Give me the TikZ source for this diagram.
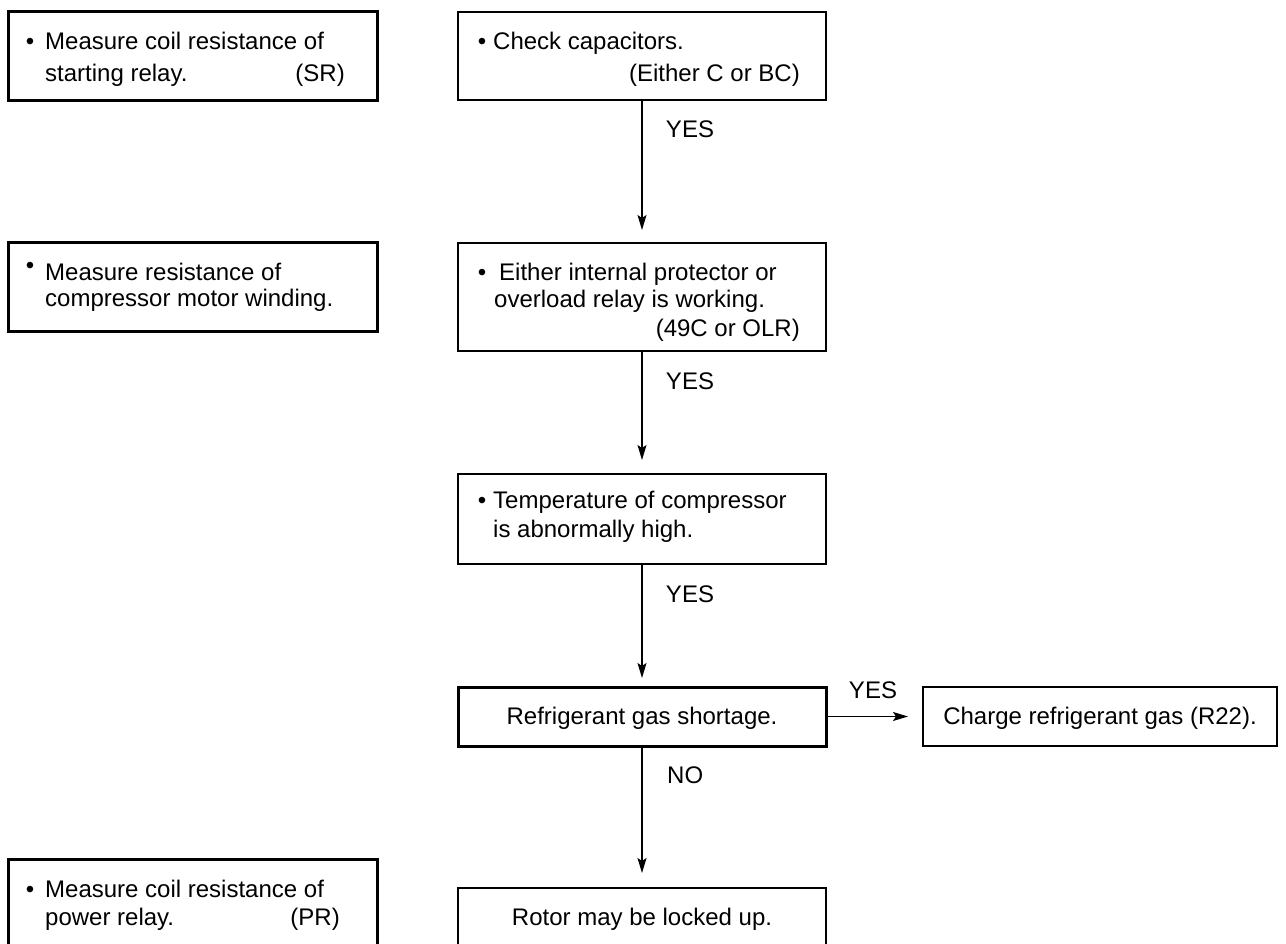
\documentclass[tikz,border=0pt]{standalone}
\usepackage{fontspec}
\setmainfont{Liberation Sans}
\usetikzlibrary{arrows.meta}
\tikzset{
  every picture/.style={x=1pt,y=-1pt},
  lbox/.style={draw, line width=3pt, inner sep=0, outer sep=0, anchor=north west},
  tbox/.style={draw, line width=1.2pt, inner sep=0, outer sep=0, anchor=north west},
  txt/.style={font=\fontsize{24}{28}\selectfont, inner sep=0},
  bul/.style={txt, anchor=base},
  conn/.style={line width=1.2pt, -{Stealth[length=15pt,width=9pt,inset=3pt]}},
  lbl/.style={txt, anchor=base}
}
\begin{document}
\begin{tikzpicture}
\clip (0,0) rectangle (1286,944);
\fill[white] (0,0) rectangle (1286,944);
% left column
\node[lbox, minimum width=369pt, minimum height=89pt] (sr) at (8,12) {};
\node[bul] (srb) at (30,50) {\textbullet};
\node[txt, anchor=base west] (sr1) at (45,50) {Measure coil resistance of};
\node[txt, anchor=base west] (sr2) at (45,82) {starting relay.};
\node[txt, anchor=base east] (sr3) at (345,82) {(SR)};

\node[lbox, minimum width=369pt, minimum height=88pt] (mw) at (8,243) {};
\node[bul] (mwb) at (30,274) {\textbullet};
\node[txt, anchor=base west] (mw1) at (45,280) {Measure resistance of};
\node[txt, anchor=base west] (mw2) at (45,307) {compressor motor winding.};

\node[lbox, minimum width=369pt, minimum height=100pt] (pr) at (8,859) {};
\node[bul] (prb) at (30,897) {\textbullet};
\node[txt, anchor=base west] (pr1) at (45,897) {Measure coil resistance of};
\node[txt, anchor=base west] (pr2) at (45,925) {power relay.};
\node[txt, anchor=base east] (pr3) at (340,925) {(PR)};

% right column
\node[tbox, minimum width=368pt, minimum height=88pt] (cap) at (458,12) {};
\node[bul] (capb) at (482,50) {\textbullet};
\node[txt, anchor=base west] (cap1) at (493,50) {Check capacitors.};
\node[txt, anchor=base east] (cap2) at (800,82) {(Either C or BC)};

\node[tbox, minimum width=368pt, minimum height=108pt] (olr) at (458,243) {};
\node[bul] (olrb) at (482,280) {\textbullet};
\node[txt, anchor=base west] (olr1) at (499,280) {Either internal protector or};
\node[txt, anchor=base west] (olr2) at (494,308) {overload relay is working.};
\node[txt, anchor=base east] (olr3) at (800,337) {(49C or OLR)};

\node[tbox, minimum width=368pt, minimum height=90pt] (tmp) at (458,474) {};
\node[bul] (tmpb) at (482,508) {\textbullet};
\node[txt, anchor=base west] (tmp1) at (493,508) {Temperature of compressor};
\node[txt, anchor=base west] (tmp2) at (493,537) {is abnormally high.};

\node[lbox, minimum width=368pt, minimum height=59pt] (ref) at (458,687) {};
\node[txt, anchor=base] (reft) at (642,724) {Refrigerant gas shortage.};

\node[tbox, minimum width=354pt, minimum height=59pt] (chg) at (923,687) {};
\node[txt, anchor=base] (chgt) at (1100,724) {Charge refrigerant gas (R22).};

\node[tbox, minimum width=368pt, minimum height=80pt] (rot) at (458,888) {};
\node[txt, anchor=base] (rott) at (642,925) {Rotor may be locked up.};

% connectors
\draw[conn, shorten >=13pt] (cap.south) -- (olr.north);
\draw[conn, shorten >=14pt] (olr.south) -- (tmp.north);
\draw[conn, shorten >=9pt] (tmp.south) -- (ref.north);
\draw[conn, shorten >=15pt] (ref.south) -- (rot.north);
\draw[conn, shorten >=15pt] (ref.east) -- (chg.west);

% labels
\node[lbl] (y1) at (690,138) {YES};
\node[lbl] (y2) at (690,389) {YES};
\node[lbl] (y3) at (690,602) {YES};
\node[lbl] (y4) at (873,698) {YES};
\node[txt, anchor=base west] (n1) at (667,783) {NO};
\end{tikzpicture}
\end{document}
